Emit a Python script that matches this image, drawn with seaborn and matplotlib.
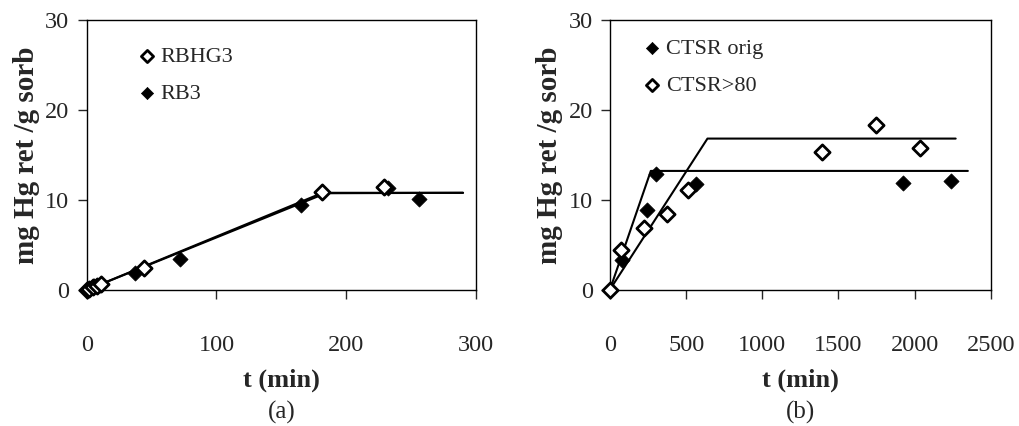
import numpy as np
import pandas as pd
import seaborn as sns
import matplotlib.pyplot as plt

# Panel (a) data
rbhg3_t = [0, 2, 5, 8, 11, 44, 181, 229]
rbhg3_q = [0.0, 0.15, 0.3, 0.5, 0.7, 2.5, 10.85, 11.5]
rb3_t = [0, 3, 6, 10, 37, 72, 165, 232, 256]
rb3_q = [0.0, 0.2, 0.4, 0.6, 1.85, 3.5, 9.5, 11.3, 10.1]
fit_a1_t = [0, 185, 290]
fit_a1_q = [0.0, 10.8, 10.8]
fit_a2_t = [0, 181, 290]
fit_a2_q = [0.0, 10.75, 10.8]

# Panel (b) data
orig_t = [0, 77, 245, 302, 565, 1927, 2240]
orig_q = [0.0, 3.3, 8.9, 12.85, 11.75, 11.85, 12.1]
gt80_t = [0, 72, 226, 372, 515, 1395, 1748, 2037]
gt80_q = [0.0, 4.4, 6.9, 8.35, 11.1, 15.35, 18.3, 15.7]
fit_orig_t = [0, 268, 2350]
fit_orig_q = [0.0, 13.2, 13.2]
fit_gt80_t = [0, 640, 2270]
fit_gt80_q = [0.0, 16.8, 16.8]

sns.set_theme(style="ticks")
plt.rcParams["font.family"] = ["Liberation Serif", "DejaVu Serif"]

fig = plt.figure(figsize=(10.19, 4.26), dpi=100)
W, H = 1019, 426
ax1 = fig.add_axes([86.7 / W, 1 - 290 / H, (476 - 86.7) / W, 270 / H])
ax2 = fig.add_axes([610 / W, 1 - 289.5 / H, (990.7 - 610) / W, 269.5 / H])

open_kw = dict(marker="D", s=60, facecolor="white", edgecolor="black", linewidth=2.0,
               zorder=3, clip_on=False)
fill_kw = dict(marker="D", s=60, color="black", edgecolor="black", linewidth=0.5,
               zorder=3, clip_on=False)

# (a)
sns.lineplot(x=fit_a1_t, y=fit_a1_q, ax=ax1, color="black", linewidth=1.5, zorder=2)
sns.lineplot(x=fit_a2_t, y=fit_a2_q, ax=ax1, color="black", linewidth=1.5, zorder=2)
sns.scatterplot(x=rb3_t, y=rb3_q, ax=ax1, label="RB3", **fill_kw)
sns.scatterplot(x=rbhg3_t, y=rbhg3_q, ax=ax1, label="RBHG3", **open_kw)
ax1.set_xlim(0, 300)
ax1.set_xticks([0, 100, 200, 300])

# (b)
sns.lineplot(x=fit_orig_t, y=fit_orig_q, ax=ax2, color="black", linewidth=1.5, zorder=2)
sns.lineplot(x=fit_gt80_t, y=fit_gt80_q, ax=ax2, color="black", linewidth=1.5, zorder=2)
sns.scatterplot(x=orig_t, y=orig_q, ax=ax2, label="CTSR orig", **fill_kw)
sns.scatterplot(x=gt80_t, y=gt80_q, ax=ax2, label="CTSR>80", **open_kw)
ax2.set_xlim(0, 2500)
ax2.set_xticks([0, 500, 1000, 1500, 2000, 2500])

for ax in (ax1, ax2):
    ax.set_ylim(0, 30)
    ax.set_yticks([0, 10, 20, 30])
    ax.tick_params(direction="out", length=6.5, width=1, labelsize=17.5,
                   top=False, right=False)
    ax.tick_params(axis="x", pad=26)
    ax.tick_params(axis="y", pad=6)
    for sp in ax.spines.values():
        sp.set_linewidth(1.0)
        sp.set_color("black")
    ax.set_ylabel("mg Hg ret /g sorb", fontsize=21, fontweight="bold", labelpad=4)
    ax.set_xlabel("t (min)", fontsize=19, fontweight="bold", labelpad=9)

handles, labels = ax1.get_legend_handles_labels()
ax1.legend(handles[::-1], labels[::-1], loc="upper left", bbox_to_anchor=(0.097, 0.935),
           frameon=False, fontsize=16, handletextpad=0.0, labelspacing=0.75,
           markerscale=0.8, borderaxespad=0, handlelength=1.2)
ax2.legend(loc="upper left", bbox_to_anchor=(0.053, 0.966), frameon=False, fontsize=16,
           handletextpad=0.0, labelspacing=0.75, markerscale=0.8, borderaxespad=0,
           handlelength=1.2)

fig.text(0.5 * (86.7 + 476) / W, 1 - 412 / H, "(a)", ha="center", va="center", fontsize=18)
fig.text(0.5 * (610 + 990.7) / W, 1 - 412 / H, "(b)", ha="center", va="center", fontsize=18)

fig.savefig("out.png", dpi=100)
